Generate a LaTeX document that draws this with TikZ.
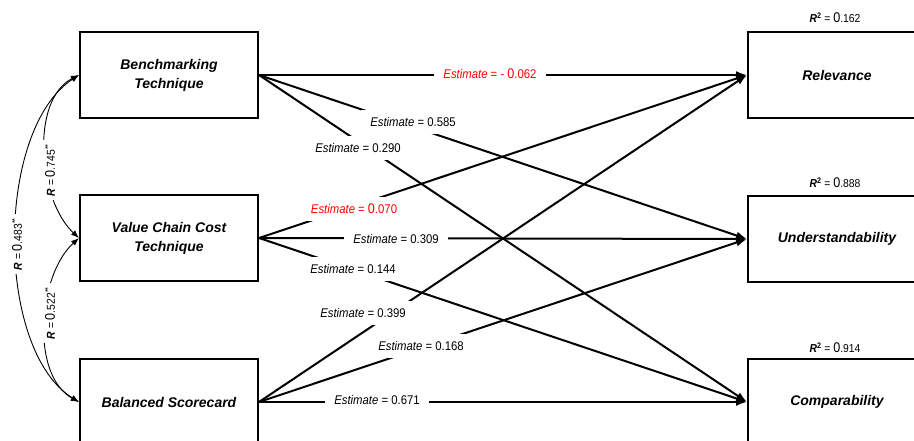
\documentclass[tikz,border=0pt]{standalone}
\usepackage{fontspec}
\setmainfont{Liberation Sans}
\newfontfamily\lblfont[FakeStretch=0.9]{Liberation Sans}
\usetikzlibrary{arrows.meta}
\newcommand\bz{{\fontsize{14}{14}\selectfont 0}}
\newcommand\est{\textit{Estimate}}
\newcommand\Rb{\textbf{\textit{R}}}
\begin{document}
\begin{tikzpicture}[x=1pt,y=-1pt,
  box/.style={draw, line width=2pt, minimum width=178pt, minimum height=86pt, inner sep=0pt, align=center, font=\fontsize{14}{19}\selectfont\bfseries\itshape},
  effect/.style={line width=2pt, -{Latex[length=11pt,width=8pt]}},
  lbl/.style={fill=white, inner xsep=9pt, inner ysep=7pt, font=\lblfont\fontsize{12.6}{14}\selectfont},
  neg/.style={lbl, text=red},
  corr/.style={line width=0.9pt, {Latex[length=8pt,width=6pt]}-{Latex[length=8pt,width=6pt]}},
  rlbl/.style={fill=white, rotate=90, inner xsep=4pt, inner ysep=2pt, font=\lblfont\fontsize{11.5}{12}\selectfont},
  rsq/.style={font=\lblfont\fontsize{11.5}{12}\selectfont, inner sep=1pt}
]
\useasboundingbox (0,0) rectangle (914,440);
\clip (0,0) rectangle (914,440);
\fill[white] (0,0) rectangle (914,440);

% boxes
\node[box] (bt) at (169,75) {Benchmarking\\Technique};
\node[box] (vc) at (169,238) {Value Chain Cost\\Technique};
\node[box] (bs) at (169,402) {Balanced Scorecard};
\node[box] (rel) at (837,75) {Relevance};
\node[box] (und) at (837,239) {Understandability};
\node[box] (com) at (837,402) {Comparability};

% R^2 labels
\node[rsq] (r2a) at (835,18) {\Rb\textsuperscript{\textbf{2}} = \bz.162};
\node[rsq] (r2b) at (835,183) {\Rb\textsuperscript{\textbf{2}} = \bz.888};
\node[rsq] (r2c) at (835,348) {\Rb\textsuperscript{\textbf{2}} = \bz.914};

% effects
\draw[effect] (bt.east) -- (rel.west);
\draw[effect] (bt.east) -- (und.west);
\draw[effect] (bt.east) -- (com.west);
\draw[effect] (vc.east) -- (rel.west);
\draw[effect] (vc.east) -- (und.west);
\draw[effect] (vc.east) -- (com.west);
\draw[effect] (bs.east) -- (rel.west);
\draw[effect] (bs.east) -- (und.west);
\draw[effect] (bs.east) -- (com.west);

% effect labels
\node[neg] (e1) at (490,74) {\est{} = - \bz.062};
\node[lbl] (e2) at (413,122) {\est{} = 0.585};
\node[lbl] (e3) at (358,148) {\est{} = 0.290};
\node[neg] (e4) at (354,209) {\est{} = \bz.070};
\node[lbl] (e5) at (396,239) {\est{} = 0.309};
\node[lbl] (e6) at (353,269) {\est{} = 0.144};
\node[lbl] (e7) at (363,313) {\est{} = 0.399};
\node[lbl] (e8) at (421,346) {\est{} = 0.168};
\node[lbl] (e9) at (377,400) {\est{} = 0.671};

% correlations
\draw[corr] (bt.west) .. controls (30,100) and (38,200) .. (vc.west);
\draw[corr] (vc.west) .. controls (38,275) and (30,375) .. (bs.west);
\draw[corr] (bt.west) .. controls (-5,130) and (-5,350) .. (bs.west);
\node[rlbl] (c1) at (50,170) {\Rb{} = \bz.745\textsuperscript{**}};
\node[rlbl] (c2) at (50,313) {\Rb{} = \bz.522\textsuperscript{**}};
\node[rlbl] (c3) at (17,244) {\Rb{} = \bz.483\textsuperscript{**}};
\end{tikzpicture}
\end{document}
